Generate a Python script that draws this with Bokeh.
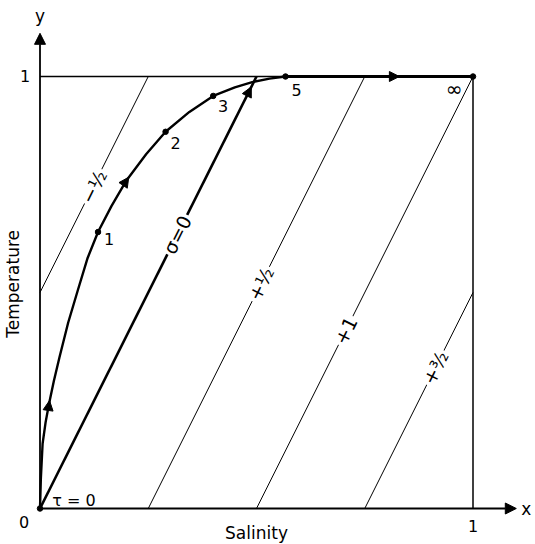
import numpy as np
from bokeh.plotting import figure
from bokeh.models import ColumnDataSource, Arrow, NormalHead
from bokeh.core.properties import value
from bokeh.embed import file_html
from bokeh.resources import INLINE

# ---------------- data ----------------
# trajectory (salinity S, temperature T) from tau = 0 up to the top edge
curve_S = [0, 0.002, 0.006, 0.013, 0.021, 0.032, 0.045, 0.065, 0.087, 0.11, 0.134,
           0.165, 0.2, 0.245, 0.29, 0.345, 0.4, 0.45, 0.49, 0.53, 0.567]
curve_T = [0, 0.07, 0.15, 0.2, 0.243, 0.295, 0.35, 0.43, 0.504, 0.58, 0.64,
           0.70, 0.76, 0.82, 0.872, 0.918, 0.955, 0.975, 0.987, 0.995, 1.0]
# continuation along the top edge towards tau = infinity
top_S = [0.567, 1.0]
top_T = [1.0, 1.0]

# marked times along the trajectory
tau_labels = ["1", "2", "3", "5", "\u221e"]
tau_S = [0.134, 0.29, 0.4, 0.567, 1.0]
tau_T = [0.64, 0.872, 0.955, 1.0, 1.0]

# constant-density lines (end points)
iso_labels = ["\u2212\u00bd", "\u03c3=0", "+\u00bd", "+1", "+\u00b3\u2044\u2082"]
iso_x0 = [0, 0, 0.25, 0.5, 0.75]
iso_y0 = [0.5, 0, 0, 0, 0]
iso_x1 = [0.25, 0.5, 0.75, 1.0, 1.0]
iso_y1 = [1.0, 1.0, 1.0, 1.0, 0.5]
iso_lab_S = [0.124, 0.317, 0.51, 0.706, 0.913]
iso_lab_T = [0.745, 0.634, 0.52, 0.412, 0.326]

# direction arrows along the path (start -> tip)
arr_x0 = [0.017, 0.19, 0.468, 0.80]
arr_y0 = [0.215, 0.745, 0.936, 1.0]
arr_x1 = [0.022, 0.205, 0.488, 0.83]
arr_y1 = [0.25, 0.767, 0.976, 1.0]

tick_labels = ["0", "1", "1"]
axis_end = 1.1

# ---------------- layout ----------------
W, H = 535, 544
PX, PY = 433.0, 432.0          # pixels per data unit
x0_px, y0_px = 39.5, 508.0     # position of origin inside the canvas
xs = -x0_px / PX
xe = xs + W / PX
ye = y0_px / PY
ys = ye - H / PY

p = figure(width=W, height=H, x_range=(xs, xe), y_range=(ys, ye),
           output_backend="svg", toolbar_location=None,
           x_axis_type=None, y_axis_type=None, min_border=0,
           outline_line_color=None, background_fill_color="white")
p.grid.visible = False

FONT = value("DejaVu Sans")
ink = "black"

# box edges
p.line([0, 1], [1, 1], line_color=ink, line_width=1.3)
p.line([1, 1], [0, 1], line_color=ink, line_width=1.5)

# axes with arrow heads
p.add_layout(Arrow(x_start=0, y_start=0, x_end=axis_end, y_end=0,
                   line_color=ink, line_width=1.8,
                   end=NormalHead(size=11, fill_color=ink, line_color=ink)))
p.add_layout(Arrow(x_start=0, y_start=0, x_end=0, y_end=axis_end,
                   line_color=ink, line_width=1.8,
                   end=NormalHead(size=11, fill_color=ink, line_color=ink)))

# constant-density lines
widths = [1.0, 2.6, 1.0, 1.0, 1.0]
for i in range(len(iso_x0)):
    p.line([iso_x0[i], iso_x1[i]], [iso_y0[i], iso_y1[i]],
           line_color=ink, line_width=widths[i])

# trajectory
p.line(curve_S, curve_T, line_color=ink, line_width=2.4)
p.line(top_S, top_T, line_color=ink, line_width=2.8)

# direction arrows
for i in range(len(arr_x0)):
    p.add_layout(Arrow(x_start=arr_x0[i], y_start=arr_y0[i],
                       x_end=arr_x1[i], y_end=arr_y1[i],
                       line_alpha=0, line_width=0,
                       end=NormalHead(size=10, fill_color=ink, line_color=ink, line_width=1)))

# dots
p.scatter([0] + tau_S, [0] + tau_T, size=5.5, color=ink)

# density labels along the lines (with white gap)
ang = [float(np.arctan2((iso_y1[i] - iso_y0[i]) * PY, (iso_x1[i] - iso_x0[i]) * PX))
       for i in range(len(iso_x0))]
iso_src = ColumnDataSource(dict(x=iso_lab_S, y=iso_lab_T, t=iso_labels, a=ang))
p.text(x="x", y="y", text="t", angle="a", source=iso_src,
       text_font=FONT, text_font_size="19px", text_color=ink,
       text_align="center", text_baseline="middle",
       background_fill_color="white", padding=2)

# time labels (pixel offsets: right/down)
dx = [11, 10, 10, 11, -19]
dy = [7, 11, 10, 13, 12]
lab_x = [tau_S[i] + dx[i] / PX for i in range(len(tau_S))]
lab_y = [tau_T[i] - dy[i] / PY for i in range(len(tau_T))]
p.text(x=lab_x[:4], y=lab_y[:4], text=tau_labels[:4], text_font=FONT, text_font_size="16px",
       text_color=ink, text_align="center", text_baseline="middle")
p.text(x=lab_x[4:], y=lab_y[4:], text=tau_labels[4:], text_font=FONT, text_font_size="20px",
       text_color=ink, text_align="center", text_baseline="middle")
p.text(x=[34 / PX], y=[8 / PY], text=["\u03c4 = 0"], text_font=FONT,
       text_font_size="16px", text_color=ink, text_align="center", text_baseline="middle")

# tick labels
p.text(x=[-16 / PX, -15 / PX, 1.0], y=[-13 / PY, 1.0 + 1 / PY, -17 / PY], text=tick_labels,
       text_font=FONT, text_font_size="16px", text_color=ink,
       text_align="center", text_baseline="middle")
# axis letters
p.text(x=[axis_end + 10 / PX, 0], y=[0, axis_end + 17 / PY], text=["x", "y"],
       text_font=FONT, text_font_size="17px", text_color=ink,
       text_align="center", text_baseline="middle")
# axis titles
p.text(x=[0.5], y=[-24 / PY], text=["Salinity"], text_font=FONT, text_font_size="17px",
       text_color=ink, text_align="center", text_baseline="middle")
p.text(x=[-27 / PX], y=[0.52], text=["Temperature"], angle=[np.pi / 2], text_font=FONT,
       text_font_size="17px", text_color=ink, text_align="center", text_baseline="middle")

open("out.html", "w").write(file_html(p, INLINE))
